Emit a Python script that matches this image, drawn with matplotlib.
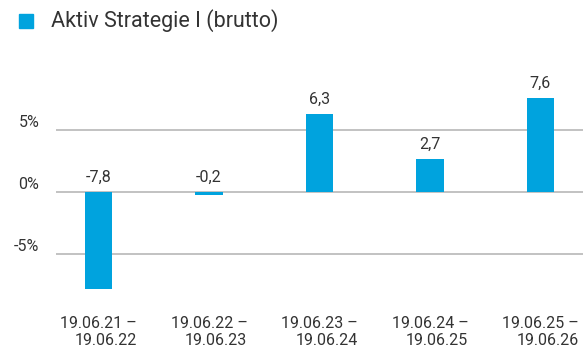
import matplotlib.pyplot as plt

plt.rcParams['font.family'] = ['Roboto', 'DejaVu Sans']

periods = ['19.06.21 –\n19.06.22', '19.06.22 –\n19.06.23', '19.06.23 –\n19.06.24',
           '19.06.24 –\n19.06.25', '19.06.25 –\n19.06.26']
values = [-7.8, -0.2, 6.3, 2.7, 7.6]
labels = ['-7,8', '-0,2', '6,3', '2,7', '7,6']
yticks = [-5, 0, 5]
ytick_labels = ['-5%', '0%', '5%']

blue = '#00a3de'
text_col = '#333333'

fig = plt.figure(figsize=(5.83, 3.49), dpi=100)
ax = fig.add_axes([0.096, 0.163, 0.904, 0.665])

x = list(range(len(values)))
ax.bar(x, values, width=0.245, color=blue, zorder=3)

for xi, v, lab in zip(x, values, labels):
    top = max(v, 0)
    ax.annotate(lab, (xi, top), xytext=(0, 5), textcoords='offset points',
                ha='center', va='bottom', fontsize=11.5, color=text_col)

ax.set_xlim(-0.385, 4.385)
ax.set_ylim(-8.06, 10.65)
ax.set_yticks(yticks)
ax.set_yticklabels(ytick_labels, fontsize=11.5, color=text_col)
for t in ax.get_yticklabels():
    t.set_va('bottom')
ax.set_xticks(x)
ax.set_xticklabels(periods, fontsize=11.5, color=text_col, multialignment='right',
                   linespacing=1.15)
ax.tick_params(axis='y', length=0, pad=12)
ax.tick_params(axis='x', length=0, pad=17)
ax.grid(axis='y', color='#bdbdbd', linewidth=1.3, zorder=0)
for s in ax.spines.values():
    s.set_visible(False)

# legend entry drawn by hand at the top left
fig.patches.append(plt.Rectangle((19 / 583, 1 - 28 / 349), 14 / 583, 14 / 349,
                                 transform=fig.transFigure, color=blue))
fig.text(51 / 583, 1 - 21 / 349, 'Aktiv Strategie I (brutto)', fontsize=15.5,
         color=text_col, va='center', ha='left')

fig.savefig('out.png', dpi=100)
